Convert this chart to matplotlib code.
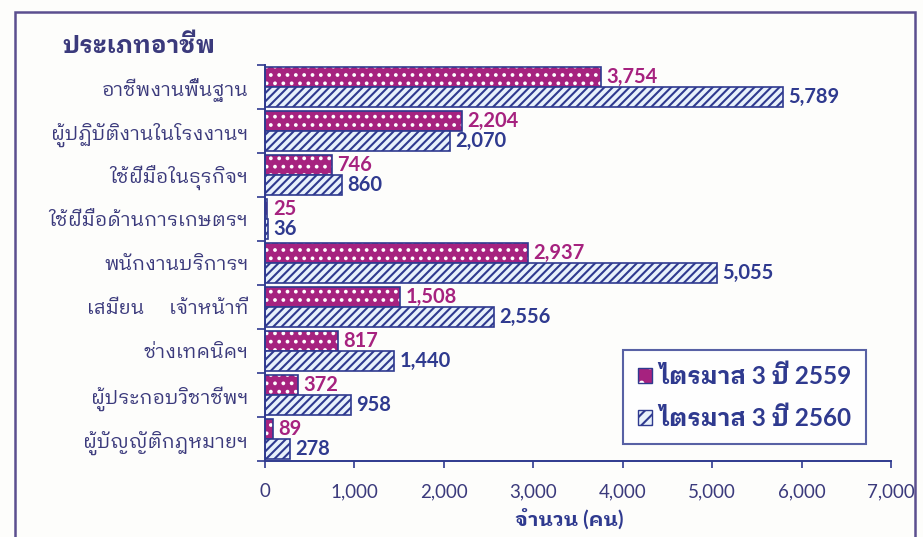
import matplotlib
matplotlib.use("Agg")
import matplotlib.pyplot as plt
import numpy as np
from matplotlib.patches import Patch, Rectangle
from matplotlib.legend_handler import HandlerTuple
from matplotlib.ticker import FuncFormatter, FixedLocator

# data
categories = ["อาชีพงานพื้นฐาน", "ผู้ปฏิบัติงานในโรงงานฯ", "ใช้ฝีมือในธุรกิจฯ",
              "ใช้ฝีมือด้านการเกษตรฯ", "พนักงานบริการฯ", "เสมียน     เจ้าหน้าที่",
              "ช่างเทคนิคฯ", "ผู้ประกอบวิชาชีพฯ", "ผู้บัญญัติกฎหมายฯ"]
q3_2559 = [3754, 2204, 746, 25, 2937, 1508, 817, 372, 89]
q3_2560 = [5789, 2070, 860, 36, 5055, 2556, 1440, 958, 278]
series_names = ["ไตรมาส 3 ปี 2559", "ไตรมาส 3 ปี 2560"]
x_ticks = [0, 1000, 2000, 3000, 4000, 5000, 6000, 7000]

fonts = ["Lato", "IBM Plex Sans Thai Looped", "DejaVu Sans"]
plt.rcParams["font.family"] = fonts
plt.rcParams["hatch.linewidth"] = 1.5

pink = "#a6227f"
navy = "#2f3a8f"
label_col = "#3b3a7c"
frame_col = "#5b4f8f"

fig = plt.figure(figsize=(9.23, 5.37), dpi=100)
fig.patch.set_facecolor("#fdfdfb")
ax = fig.add_axes([265 / 923, 1 - 461 / 537, 626 / 923, 396 / 537])
ax.set_facecolor("none")

# outer frame
fig.patches.append(Rectangle((15 / 923, -0.05), 900 / 923, 1.05 - 12 / 537,
                             transform=fig.transFigure, fill=False,
                             edgecolor=frame_col, linewidth=1.8))

y = np.arange(len(categories))
h = 0.455
off = 0.235

# 2559: pink with white dots
ax.barh(y - off, q3_2559, height=h, color=pink, edgecolor="white", hatch="..", linewidth=0)
ax.barh(y - off, q3_2559, height=h, fill=False, edgecolor=navy, linewidth=1.2)
# 2560: light with navy diagonal stripes
ax.barh(y + off, q3_2560, height=h, color="#e8f1fb", edgecolor=navy, hatch="////", linewidth=1.2)

for yi, v in zip(y, q3_2559):
    ax.annotate(f"{v:,}", (v, yi - off), xytext=(4, 0), textcoords="offset points",
                va="center", ha="left", fontsize=14.5, fontweight="bold", color=pink)
for yi, v in zip(y, q3_2560):
    ax.annotate(f"{v:,}", (v, yi + off), xytext=(4, 0), textcoords="offset points",
                va="center", ha="left", fontsize=14.5, fontweight="bold", color=navy)

ax.set_xlim(0, 7000)
ax.set_ylim(len(categories) - 0.5, -0.5)

ax.xaxis.set_major_locator(FixedLocator(x_ticks))
ax.xaxis.set_major_formatter(FuncFormatter(lambda v, p: f"{int(v):,}"))
ax.tick_params(axis="x", direction="out", length=5, width=1.2, color=navy,
               labelcolor=label_col, labelsize=13.5, pad=11)

ax.yaxis.set_major_locator(FixedLocator(np.arange(len(categories) + 1) - 0.5))
ax.yaxis.set_major_formatter(FuncFormatter(lambda v, p: ""))
ax.yaxis.set_minor_locator(FixedLocator(y))
ax.set_yticklabels(categories, minor=True)
ax.tick_params(axis="y", which="major", direction="out", length=6, width=1.2, color=navy)
ax.tick_params(axis="y", which="minor", length=0, labelcolor=label_col, labelsize=14, pad=12)

for s in ["top", "right"]:
    ax.spines[s].set_visible(False)
for s in ["left", "bottom"]:
    ax.spines[s].set_color(navy)
    ax.spines[s].set_linewidth(1.4)

ax.set_xlabel("จำนวน (คน)", fontsize=14.5, fontweight="bold", color=navy, va="center")
ax.xaxis.set_label_coords(0.486, -(519 - 461) / 396)
fig.text(62 / 923, 1 - 45 / 537, "ประเภทอาชีพ", fontsize=17.5, fontweight="bold",
         color=label_col, va="center", ha="left")

h1 = (Patch(facecolor=pink, edgecolor="white", hatch=".", linewidth=0),
      Patch(fill=False, edgecolor=navy, linewidth=1))
h2 = Patch(facecolor="#e8f1fb", edgecolor=navy, hatch="///", linewidth=1)
leg = ax.legend([h1, h2], series_names, handler_map={tuple: HandlerTuple(ndivide=1)},
                loc="upper left", bbox_to_anchor=(623 / 923, 1 - 350 / 537),
                bbox_transform=fig.transFigure, frameon=True, borderaxespad=0,
                fancybox=False, edgecolor=navy, handlelength=0.6, handleheight=0.6,
                handletextpad=0.3, borderpad=0.6, labelspacing=0.75,
                prop={"family": fonts, "weight": "bold", "size": 17.5})
leg.get_frame().set_linewidth(1.5)
for t in leg.get_texts():
    t.set_color(navy)

fig.savefig("out.png", dpi=100, facecolor=fig.get_facecolor())
